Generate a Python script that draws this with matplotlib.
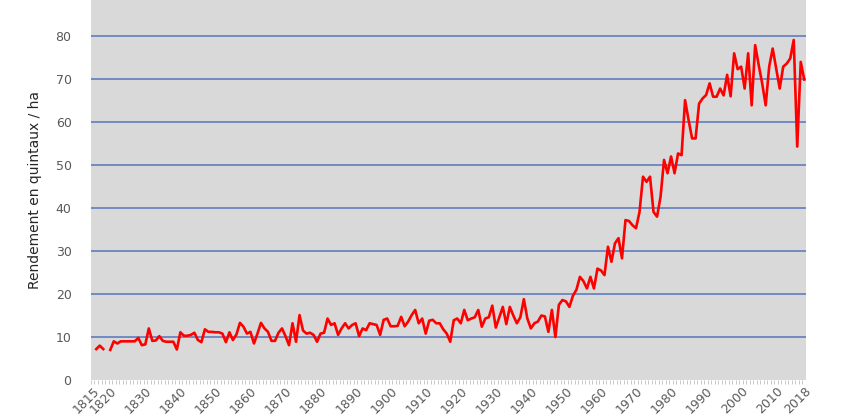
import numpy as np
import matplotlib
matplotlib.use("Agg")
import matplotlib.pyplot as plt

# Rendement du blé en France, 1815-2018 (quintaux / ha)
years = np.arange(1815, 2019)
yields = [
    np.nan, 7.2, 8.0, 7.2, np.nan,                                   # 1815-1819
    7.0, 9.0, 8.5, 9.0, 9.0, 9.0, 9.0, 9.0, 9.8, 8.1,               # 1820-1829
    8.3, 12.0, 9.1, 9.2, 10.2, 9.1, 8.9, 8.9, 8.9, 7.1,             # 1830-1839
    11.1, 10.3, 10.3, 10.5, 11.0, 9.3, 8.8, 11.8, 11.2, 11.2,       # 1840-1849
    11.1, 11.1, 10.8, 8.8, 11.1, 9.3, 10.6, 13.3, 12.4, 10.8,       # 1850-1859
    11.2, 8.5, 10.8, 13.3, 12.0, 11.2, 9.1, 9.1, 11.0, 12.0,        # 1860-1869
    10.2, 8.1, 13.2, 8.9, 15.1, 11.5, 10.8, 11.0, 10.5, 8.9,        # 1870-1879
    10.8, 11.0, 14.3, 12.8, 13.2, 10.5, 12.0, 13.2, 12.0, 12.8,     # 1880-1889
    13.2, 10.2, 12.0, 11.6, 13.2, 13.0, 12.8, 10.5, 14.0, 14.3,     # 1890-1899
    12.5, 12.5, 12.6, 14.7, 12.5, 13.6, 15.1, 16.3, 13.2, 14.3,     # 1900-1909
    10.8, 13.8, 14.0, 13.2, 13.2, 11.8, 10.8, 8.9, 13.9, 14.3,      # 1910-1919
    13.2, 16.3, 13.9, 14.3, 14.6, 16.3, 12.4, 14.3, 14.6, 17.3,     # 1920-1929
    12.2, 14.6, 17.0, 13.0, 17.0, 15.0, 13.2, 14.6, 18.8, 14.3,     # 1930-1939
    12.0, 13.2, 13.6, 15.0, 14.8, 11.2, 16.3, 10.0, 17.5, 18.6,     # 1940-1949
    18.3, 17.0, 19.6, 21.0, 24.0, 23.0, 21.3, 24.0, 21.3, 25.9,     # 1950-1959
    25.5, 24.4, 31.0, 27.5, 31.8, 33.0, 28.3, 37.2, 37.0, 36.0,     # 1960-1969
    35.3, 39.1, 47.3, 46.1, 47.3, 39.1, 38.0, 42.6, 51.2, 48.1,     # 1970-1979
    52.0, 48.1, 52.7, 52.3, 65.1, 60.5, 56.2, 56.2, 64.3, 65.5,     # 1980-1989
    66.3, 69.0, 65.9, 65.9, 67.8, 66.2, 71.0, 66.0, 76.0, 72.3,     # 1990-1999
    72.9, 67.8, 76.0, 63.9, 77.9, 73.3, 69.0, 63.9, 72.9, 77.1,     # 2000-2009
    72.5, 67.8, 72.9, 73.6, 74.8, 79.1, 54.3, 74.0, 69.9,           # 2010-2018
]
label_years = [1815, 1820, 1830, 1840, 1850, 1860, 1870, 1880, 1890, 1900,
               1910, 1920, 1930, 1940, 1950, 1960, 1970, 1980, 1990, 2000,
               2010, 2018]

fig = plt.figure(figsize=(8.6, 4.2), dpi=100)
ax = fig.add_axes([0.1058, 0.0952, 0.8314, 0.9048])
ax.set_facecolor("#D9D9D9")

# grille horizontale bleue
for v in range(10, 90, 10):
    ax.axhline(v, color="#6A84C0", linewidth=1.3, zorder=1)

ax.plot(years, yields, color="#FF0000", linewidth=1.9, zorder=3,
        solid_joinstyle="round")

ax.set_xlim(1815 - 0.5, 2018 + 0.5)
ax.set_ylim(0, 88.4)
for s in ax.spines.values():
    s.set_visible(False)

ax.set_yticks(range(0, 90, 10))
ax.tick_params(axis="y", length=0, pad=14, labelsize=9, labelcolor="#595959")

ax.set_xticks(label_years)
ax.set_xticks(years - 0.5, minor=True)
ax.tick_params(axis="x", which="major", length=0, pad=3, labelsize=9,
               labelcolor="#595959")
ax.tick_params(axis="x", which="minor", length=3, width=0.6, color="#BFBFBF")
for lab in ax.get_xticklabels():
    lab.set_rotation(45)
    lab.set_ha("right")
    lab.set_va("top")
    lab.set_rotation_mode("anchor")

ax.set_ylabel("Rendement en quintaux / ha", fontsize=10, color="#262626",
              labelpad=10)

fig.savefig("out.png", dpi=100)
